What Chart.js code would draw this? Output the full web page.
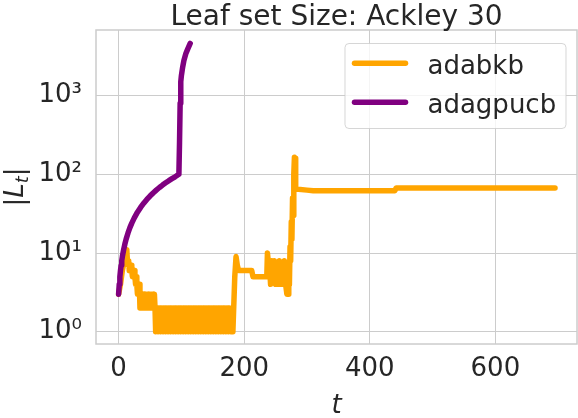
<!DOCTYPE html>
<html lang="en">
<head>
<meta charset="UTF-8">
<title>Leaf set Size: Ackley 30</title>
<script src="https://cdn.jsdelivr.net/npm/chart.js"></script>
<style>
  html, body { margin: 0; padding: 0; background: #fff; }
  #wrap { width: 578px; height: 418px; }
</style>
</head>
<body>
<div id="wrap"><canvas id="leafChart"></canvas></div>
<script>
// values
const xTicks = [0, 200, 400, 600];
const yTicks = [1, 10, 100, 1000];
const yTickLabels = ['10⁰', '10¹', '10²', '10³'];
const seriesNames = ['adabkb', 'adagpucb'];
const chartTitle = 'Leaf set Size: Ackley 30';

const adabkbT = [
  0, 3, 6, 9, 12, 13, 14, 15, 16, 17, 18, 19, 20, 21, 22, 23, 24, 25, 26, 27, 28, 29, 30, 31, 32, 33,
  34, 35, 36, 37, 38, 39, 40, 41, 42, 43, 44, 45, 46, 47, 48, 49, 50, 51, 52, 53, 54, 55, 56, 57, 58,
  59, 61, 63, 65, 67, 69, 71, 73, 75, 77, 79, 81, 83, 85, 87, 89, 91, 93, 95, 97, 99,
  101, 103, 105, 107, 109, 111, 113, 115, 117, 119, 121, 123, 125, 127, 129, 131, 133, 135, 137, 139,
  141, 143, 145, 147, 149, 151, 153, 155, 157, 159, 161, 163, 165, 167, 169, 171, 173, 175, 177, 179, 181, 182,
  185, 187, 189, 191, 212, 214, 236, 237, 239, 240, 242, 244, 246, 248, 250, 252, 254, 256, 258, 260,
  262, 264, 266, 268, 270, 271, 272, 273, 274, 275, 276, 277, 278, 279, 280, 281, 282, 300, 310, 440, 442, 695
];
const adabkbV = [
  3, 4, 6, 8, 10, 11, 8, 7, 8, 6, 7, 6, 7, 6, 5, 6, 5, 6, 5, 4, 5, 4, 3, 4, 3, 4,
  2, 3, 2, 3, 2, 3, 2, 3, 2, 3, 2, 3, 2, 3, 2, 3, 2, 3, 2, 3, 2, 3, 2, 3, 2,
  1, 2, 1, 2, 1, 2, 1, 2, 1, 2, 1, 2, 1, 2, 1, 2, 1, 2, 1, 2, 1,
  2, 1, 2, 1, 2, 1, 2, 1, 2, 1, 2, 1, 2, 1, 2, 1, 2, 1, 2, 1,
  2, 1, 2, 1, 2, 1, 2, 1, 2, 1, 2, 1, 2, 1, 2, 1, 2, 1, 2, 1, 2, 1,
  5, 9, 7, 6, 6, 5, 5, 10, 7, 8, 4, 8, 5, 8, 4, 7, 4, 8, 4, 7,
  4, 8, 4, 3, 3, 6, 4, 12, 8, 25, 15, 50, 30, 100, 165, 160, 65, 63, 62, 62, 67, 67
];

const adagpucbT = [0, 1, 2, 3, 4, 5, 6, 8, 10, 12, 15, 18, 21, 25, 30, 35, 40, 45, 50, 55, 60, 65, 70, 75, 80, 85, 90, 96,
  97, 98, 99, 100, 102, 104, 107, 110, 114];
const adagpucbV = [3, 4, 5, 6, 7, 8, 9, 11, 13, 15, 18, 21, 24, 28, 33, 38, 43, 48, 53, 58, 63, 68, 73, 78, 83, 88, 93, 100,
  250, 800, 1500, 1800, 2300, 2800, 3400, 3900, 4600];

const FONT = 'DejaVu Sans';
const TEXT = '#262626';
const GRID = '#cccccc';
const ORANGE = '#ffa500';
const PURPLE = '#800080';

function toPoints(ts, vs) {
  return ts.map((t, i) => ({ x: t, y: vs[i] }));
}

// spines, title, legend and axis labels the way matplotlib places them
const extras = {
  id: 'extras',
  afterDatasetsDraw(chart) {
    const { ctx, chartArea: a } = chart;
    ctx.save();
    ctx.strokeStyle = GRID;
    ctx.lineWidth = 1.5;
    ctx.strokeRect(a.left, a.top, a.right - a.left, a.bottom - a.top);
    ctx.restore();
  },
  afterDraw(chart) {
    const { ctx, chartArea: a } = chart;
    ctx.save();
    const midX = (a.left + a.right) / 2;

    // title, centred over the axes
    ctx.fillStyle = TEXT;
    ctx.font = `28px "${FONT}"`;
    ctx.textAlign = 'center';
    ctx.textBaseline = 'alphabetic';
    ctx.fillText(chartTitle, midX, 25);

    // legend
    ctx.beginPath();
    ctx.roundRect(345, 43.5, 221, 85, 4);
    ctx.fillStyle = 'rgba(255,255,255,0.8)';
    ctx.fill();
    ctx.strokeStyle = 'rgba(204,204,204,0.8)';
    ctx.lineWidth = 1;
    ctx.stroke();
    const rows = [63.3, 102.3];
    const colors = [ORANGE, PURPLE];
    ctx.lineCap = 'round';
    ctx.lineWidth = 5.5;
    rows.forEach((y, i) => {
      ctx.strokeStyle = colors[i];
      ctx.beginPath();
      ctx.moveTo(354.5, y);
      ctx.lineTo(405.5, y);
      ctx.stroke();
      ctx.fillStyle = TEXT;
      ctx.font = `26px "${FONT}"`;
      ctx.textAlign = 'left';
      ctx.fillText(seriesNames[i], 427.5, y + 11);
    });

    // x label
    ctx.fillStyle = TEXT;
    ctx.font = `italic 26px "${FONT}"`;
    ctx.textAlign = 'center';
    ctx.fillText('t', midX, 413);

    // y label |L_t|
    const parts = [
      { s: '|', f: `26px "${FONT}"`, dy: 0 },
      { s: 'L', f: `italic 26px "${FONT}"`, dy: 0 },
      { s: 't', f: `italic 18px "${FONT}"`, dy: 5 },
      { s: '|', f: `26px "${FONT}"`, dy: 0 }
    ];
    let w = 0;
    parts.forEach(p => { ctx.font = p.f; p.w = ctx.measureText(p.s).width; w += p.w; });
    ctx.translate(23, (a.top + a.bottom) / 2);
    ctx.rotate(-Math.PI / 2);
    ctx.textAlign = 'left';
    let x = -w / 2;
    parts.forEach(p => { ctx.font = p.f; ctx.fillText(p.s, x, p.dy); x += p.w; });

    ctx.restore();
  }
};

new Chart(document.getElementById('leafChart'), {
  type: 'line',
  data: {
    datasets: [
      {
        label: seriesNames[0],
        data: toPoints(adabkbT, adabkbV),
        borderColor: ORANGE,
        borderWidth: 5.5,
        order: 2
      },
      {
        label: seriesNames[1],
        data: toPoints(adagpucbT, adagpucbV),
        borderColor: PURPLE,
        borderWidth: 5.5,
        order: 1
      }
    ]
  },
  options: {
    responsive: true,
    maintainAspectRatio: false,
    animation: false,
    parsing: false,
    layout: { padding: { left: 0, right: 1, top: 30, bottom: 0 } },
    elements: {
      point: { radius: 0 },
      line: { tension: 0, borderCapStyle: 'round', borderJoinStyle: 'round', fill: false }
    },
    plugins: {
      legend: { display: false },
      tooltip: { enabled: false },
      title: { display: false }
    },
    scales: {
      x: {
        type: 'linear',
        min: -36,
        max: 730,
        afterBuildTicks: s => { s.ticks = xTicks.map(v => ({ value: v })); },
        afterFit: s => { s.height = 74; },
        grid: { color: GRID, lineWidth: 1, drawTicks: false },
        border: { display: false },
        ticks: {
          color: TEXT,
          font: { family: FONT, size: 26 },
          padding: 10,
          maxRotation: 0,
          autoSkip: false,
          callback: v => String(v)
        }
      },
      y: {
        type: 'logarithmic',
        min: 0.698,
        max: 6823,
        afterBuildTicks: s => { s.ticks = yTicks.map(v => ({ value: v })); },
        afterFit: s => { s.width = 96; },
        grid: { color: GRID, lineWidth: 1, drawTicks: false },
        border: { display: false },
        ticks: {
          color: TEXT,
          font: { family: FONT, size: 26 },
          padding: 14,
          autoSkip: false,
          callback: v => {
            const i = yTicks.indexOf(v);
            return i >= 0 ? yTickLabels[i] : '';
          }
        }
      }
    }
  },
  plugins: [extras]
});
</script>
</body>
</html>
